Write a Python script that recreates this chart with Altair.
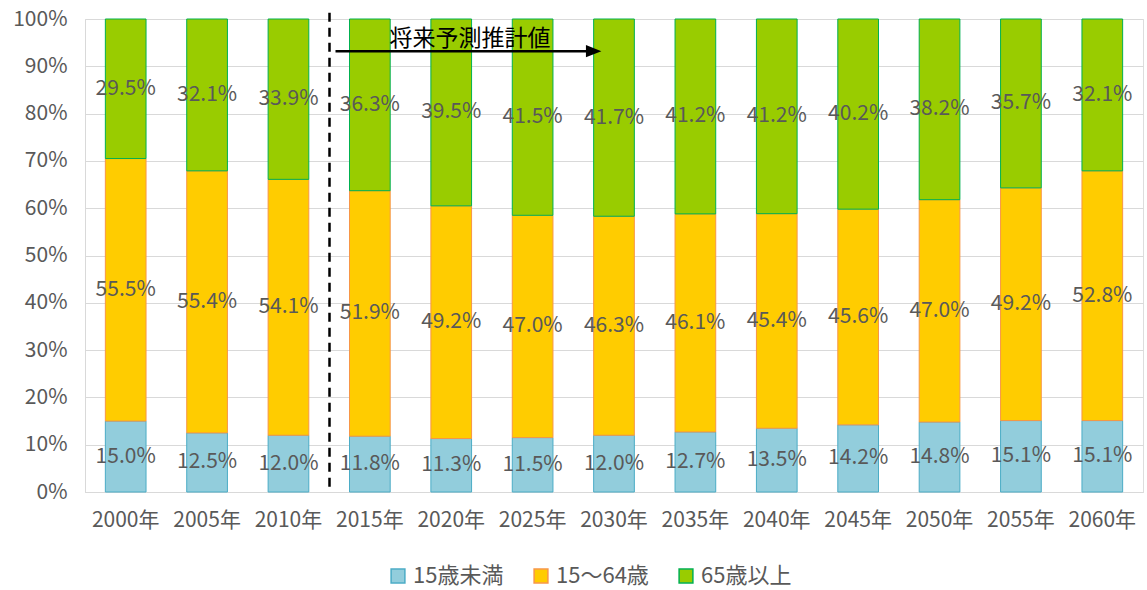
import altair as alt
import pandas as pd

years = ["2000年", "2005年", "2010年", "2015年", "2020年", "2025年", "2030年",
         "2035年", "2040年", "2045年", "2050年", "2055年", "2060年"]
groups = ["15歳未満", "15～64歳", "65歳以上"]
under15 = [15.0, 12.5, 12.0, 11.8, 11.3, 11.5, 12.0, 12.7, 13.5, 14.2, 14.8, 15.1, 15.1]
age15_64 = [55.5, 55.4, 54.1, 51.9, 49.2, 47.0, 46.3, 46.1, 45.4, 45.6, 47.0, 49.2, 52.8]
over65 = [29.5, 32.1, 33.9, 36.3, 39.5, 41.5, 41.7, 41.2, 41.2, 40.2, 38.2, 35.7, 32.1]
fills = ["#92CDDC", "#FFCC00", "#99CC00"]
strokes = ["#4BACC6", "#F79646", "#00B050"]

rows = []
for i, y in enumerate(years):
    for k, (g, vals) in enumerate(zip(groups, [under15, age15_64, over65])):
        rows.append({"year": y, "group": g, "order": k, "value": vals[i],
                     "label": f"{vals[i]:.1f}%"})
df = pd.DataFrame(rows)

FONT = "Noto Sans CJK JP"
GREY = "#595959"
FS = 21

xenc = alt.X("year:N", sort=years, title=None,
             scale=alt.Scale(paddingInner=0.5, paddingOuter=0.25),
             axis=alt.Axis(labelAngle=0, labelFontSize=FS, labelColor=GREY, labelFont=FONT,
                           ticks=False, domainColor="#D9D9D9", labelPadding=17))

base = alt.Chart(df).transform_stack(
    stack="value", groupby=["year"], as_=["v0", "v1"], offset="normalize",
    sort=[alt.SortField("order", order="ascending")]
).transform_calculate(mid="(datum.v0 + datum.v1) / 2")

legend = alt.Legend(title=None, orient="none", direction="horizontal",
                    legendX=302, legendY=546,
                    symbolType="square", symbolSize=190,
                    symbolStrokeWidth=1.5, labelFontSize=22,
                    labelColor=GREY, labelFont=FONT, columnPadding=26, labelOffset=4)

bars = base.mark_bar(strokeWidth=1).encode(
    x=xenc,
    y=alt.Y("v0:Q", title=None, scale=alt.Scale(domain=[0, 1], nice=False),
            axis=alt.Axis(format=".0%", values=[i / 10 for i in range(11)],
                          labelFontSize=FS, labelColor=GREY, labelFont=FONT,
                          ticks=False, domainColor="#D9D9D9", gridColor="#D9D9D9",
                          labelPadding=18, minExtent=80, maxExtent=80)),
    y2="v1:Q",
    fill=alt.Fill("group:N", sort=groups,
                  scale=alt.Scale(domain=groups, range=fills), legend=legend),
    stroke=alt.Stroke("group:N", sort=groups,
                      scale=alt.Scale(domain=groups, range=strokes), legend=legend),
    order=alt.Order("order:Q"),
)

labels = base.mark_text(fontSize=FS, color=GREY, font=FONT).encode(
    x=alt.X("year:N", sort=years),
    y=alt.Y("mid:Q"),
    text="label:N",
)

# annotation: dashed divider, arrow, and caption
div_df = pd.DataFrame({"year": ["2015年"], "top": [1.013], "bottom": [0.0]})
divider = alt.Chart(div_df).mark_rule(
    color="black", strokeWidth=2.5, strokeDash=[9, 6], xOffset=-20
).encode(
    x=alt.X("year:N", sort=years, bandPosition=0),
    y="top:Q", y2="bottom:Q",
)

arrow_df = pd.DataFrame({"start": ["2015年"], "end": ["2030年"], "y": [0.932]})
arrow_line = alt.Chart(arrow_df).mark_rule(color="black", strokeWidth=2.5, xOffset=-14).encode(
    x=alt.X("start:N", sort=years, bandPosition=0),
    x2=alt.X2("end:N", bandPosition=0.0),
    y="y:Q",
)
arrow_head = alt.Chart(arrow_df).mark_point(
    shape="M-1,-0.8L1,0L-1,0.8Z", size=240, filled=True, color="black", opacity=1
).encode(
    x=alt.X("end:N", sort=years, bandPosition=0.0),
    y="y:Q",
)

cap_df = pd.DataFrame({"year": ["2020年"], "y": [0.958], "text": ["将来予測推計値"]})
caption = alt.Chart(cap_df).mark_text(fontSize=23, color="black", font=FONT).encode(
    x=alt.X("year:N", sort=years, bandPosition=0.96),
    y="y:Q",
    text="text:N",
)

chart = alt.layer(bars, labels, divider, arrow_line, arrow_head, caption).properties(
    width=1058, height=473,
    padding={"left": 5, "top": 8, "right": 4, "bottom": 5},
).configure_view(stroke=None).configure(font=FONT)

chart.save("out.html", embed_options={"renderer": "svg", "actions": False})
